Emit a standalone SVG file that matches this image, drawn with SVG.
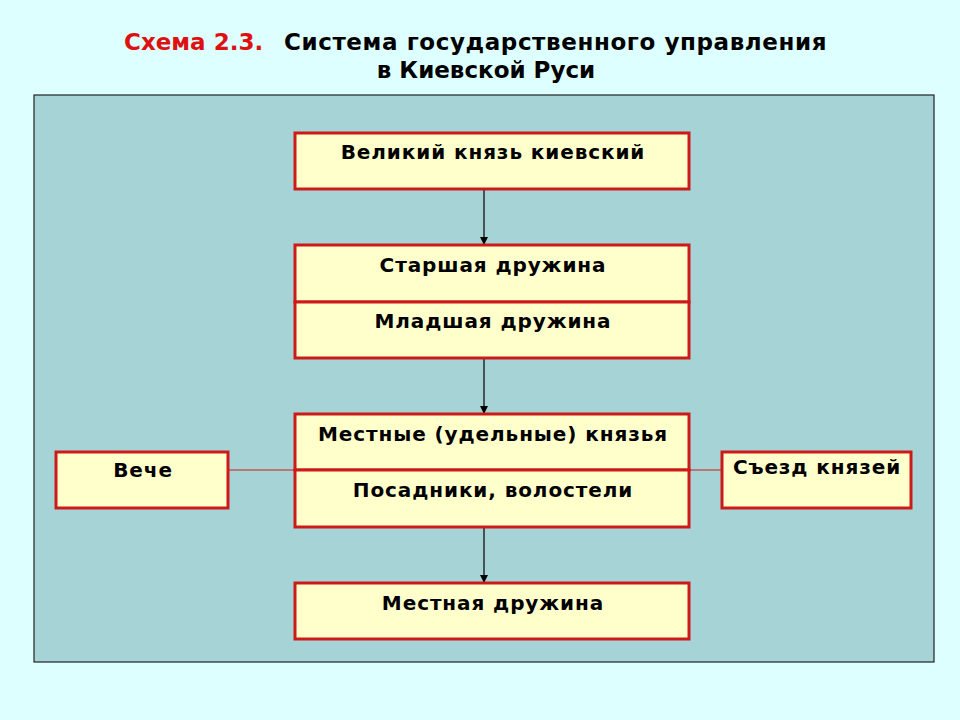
<svg xmlns="http://www.w3.org/2000/svg" width="960" height="720" viewBox="0 0 960 720">
<defs>
<style>
.box{fill:#FFFFCC;stroke:#CC1A1A;stroke-width:3}
.t{font-family:"DejaVu Sans",Verdana,sans-serif;font-weight:bold;font-size:20px;letter-spacing:0.9px;fill:#000;text-anchor:middle}
.title{font-family:"DejaVu Sans",Verdana,sans-serif;font-weight:bold;font-size:23px;fill:#000}
.arr{stroke:#000;stroke-width:1.2;fill:none;marker-end:url(#ah)}
.lnk{stroke:#CC1A1A;stroke-width:1.2;fill:none}
</style>
<marker id="ah" markerWidth="8" markerHeight="8" refX="7" refY="4" orient="auto" markerUnits="userSpaceOnUse">
<path d="M0,0 L8,4 L0,8 Z" fill="#000"/>
</marker>
</defs>
<rect x="0" y="0" width="960" height="720" fill="#DDFFFF"/>
<g id="title">
<text class="title" x="124" y="50"><tspan fill="#DD1111">Схема 2.3.</tspan><tspan x="284" letter-spacing="0.6">Система государственного управления</tspan></text>
<text class="title" x="486" y="78" text-anchor="middle">в Киевской Руси</text>
</g>
<rect id="panel" x="34" y="95" width="900" height="567" fill="#A6D4D6" stroke="#222" stroke-width="1.2"/>
<g id="connectors">
<line class="arr" x1="484" y1="190" x2="484" y2="244"/>
<line class="arr" x1="484" y1="359" x2="484" y2="413"/>
<line class="arr" x1="484" y1="528" x2="484" y2="582"/>
<line class="lnk" x1="228" y1="470" x2="295" y2="470"/>
<line class="lnk" x1="689" y1="470" x2="722" y2="470"/>
</g>
<g id="n1">
<rect class="box" x="295" y="133" width="394" height="56"/>
<text class="t" x="493" y="159">Великий князь киевский</text>
</g>
<g id="n2">
<rect class="box" x="295" y="245" width="394" height="57"/>
<text class="t" x="493" y="272">Старшая дружина</text>
</g>
<g id="n3">
<rect class="box" x="295" y="302" width="394" height="56"/>
<text class="t" x="493" y="328">Младшая дружина</text>
</g>
<g id="n4">
<rect class="box" x="295" y="414" width="394" height="56"/>
<text class="t" x="493" y="441">Местные (удельные) князья</text>
</g>
<g id="n5">
<rect class="box" x="295" y="470" width="394" height="57"/>
<text class="t" x="493" y="497">Посадники, волостели</text>
</g>
<g id="n6">
<rect class="box" x="295" y="583" width="394" height="56"/>
<text class="t" x="493" y="610">Местная дружина</text>
</g>
<g id="n7">
<rect class="box" x="56" y="452" width="172" height="56"/>
<text class="t" x="143" y="477">Вече</text>
</g>
<g id="n8">
<rect class="box" x="722" y="452" width="189" height="56"/>
<text class="t" x="817" y="474">Съезд князей</text>
</g>
</svg>
